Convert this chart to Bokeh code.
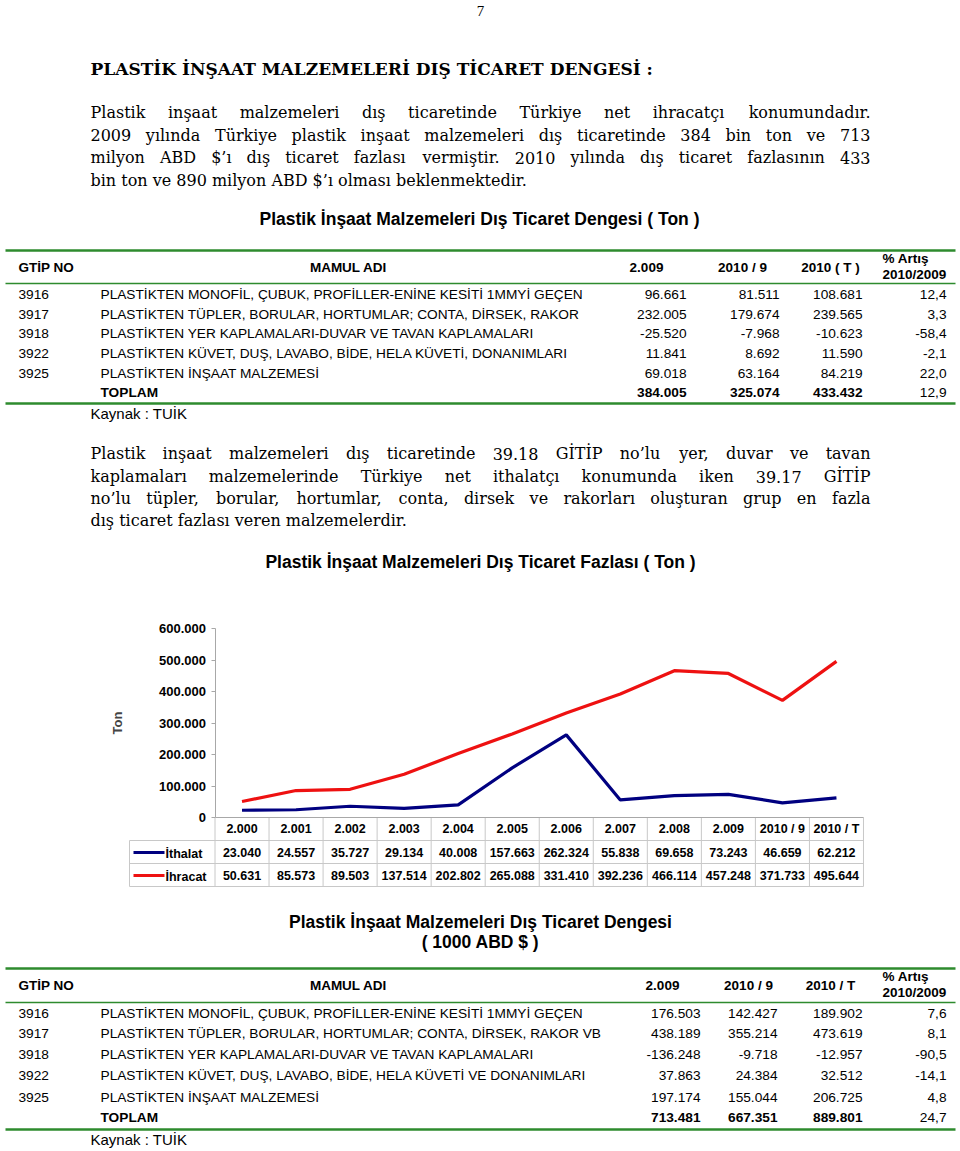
from bokeh.plotting import figure
from bokeh.models import Range1d, LinearAxis, FixedTicker, CustomJSTickFormatter, ColumnDataSource
from bokeh.core.properties import value
from bokeh.embed import file_html
from bokeh.resources import INLINE

# ---------------- data ----------------
years = ["2.000", "2.001", "2.002", "2.003", "2.004", "2.005", "2.006",
         "2.007", "2.008", "2.009", "2010 / 9", "2010 / T"]
ithalat = [23040, 24557, 35727, 29134, 40008, 157663, 262324, 55838, 69658, 73243, 46659, 62212]
ihracat = [50631, 85573, 89503, 137514, 202802, 265088, 331410, 392236, 466114, 457248, 371733, 495644]
y_ticks = [0, 100000, 200000, 300000, 400000, 500000, 600000]

gtip = ["3916", "3917", "3918", "3922", "3925"]
t1_names = ["PLASTİKTEN MONOFİL, ÇUBUK, PROFİLLER-ENİNE KESİTİ 1MMYİ GEÇEN",
            "PLASTİKTEN TÜPLER, BORULAR, HORTUMLAR; CONTA, DİRSEK, RAKOR",
            "PLASTİKTEN YER KAPLAMALARI-DUVAR VE TAVAN KAPLAMALARI",
            "PLASTİKTEN KÜVET, DUŞ, LAVABO, BİDE, HELA KÜVETİ, DONANIMLARI",
            "PLASTİKTEN İNŞAAT MALZEMESİ"]
ton_2009 = [96661, 232005, -25520, 11841, 69018, 384005]
ton_2010_9 = [81511, 179674, -7968, 8692, 63164, 325074]
ton_2010_T = [108681, 239565, -10623, 11590, 84219, 433432]
ton_pct = [12.4, 3.3, -58.4, -2.1, 22.0, 12.9]

t2_names = ["PLASTİKTEN MONOFİL, ÇUBUK, PROFİLLER-ENİNE KESİTİ 1MMYİ GEÇEN",
            "PLASTİKTEN TÜPLER, BORULAR, HORTUMLAR; CONTA, DİRSEK, RAKOR VB",
            "PLASTİKTEN YER KAPLAMALARI-DUVAR VE TAVAN KAPLAMALARI",
            "PLASTİKTEN KÜVET, DUŞ, LAVABO, BİDE, HELA KÜVETİ VE DONANIMLARI",
            "PLASTİKTEN İNŞAAT MALZEMESİ"]
usd_2009 = [176503, 438189, -136248, 37863, 197174, 713481]
usd_2010_9 = [142427, 355214, -9718, 24384, 155044, 667351]
usd_2010_T = [189902, 473619, -12957, 32512, 206725, 889801]
usd_pct = [7.6, 8.1, -90.5, -14.1, 4.8, 24.7]

heading = "PLASTİK İNŞAAT MALZEMELERİ DIŞ TİCARET DENGESİ :"
para1 = ["Plastik inşaat malzemeleri dış ticaretinde Türkiye net ihracatçı konumundadır.",
         "2009 yılında Türkiye plastik inşaat malzemeleri dış ticaretinde 384 bin ton ve 713",
         "milyon ABD $’ı dış ticaret fazlası vermiştir. 2010 yılında dış ticaret fazlasının 433",
         "bin ton ve 890 milyon ABD $’ı olması beklenmektedir."]
para2 = ["Plastik inşaat malzemeleri dış ticaretinde 39.18 GİTİP no’lu yer, duvar ve tavan",
         "kaplamaları malzemelerinde Türkiye net ithalatçı konumunda iken 39.17 GİTİP",
         "no’lu tüpler, borular, hortumlar, conta, dirsek ve rakorları oluşturan grup en fazla",
         "dış ticaret fazlası veren malzemelerdir."]


def fmt_int(v):
    return f"{v:,}".replace(",", ".")


def fmt_pct(v):
    return f"{v:.1f}".replace(".", ",")


# ---------------- page / chart geometry ----------------
W, H = 958, 1149
X0, CW = 214.5, 54.04        # left edge of chart frame (page px), width of one category
Y0, K = 817.0, 189 / 600000  # page px of value 0, px per unit

x_start = (0 - X0) / CW - 0.5
x_end = (W - X0) / CW - 0.5
y_start = (Y0 - H) / K
y_end = (Y0 - 0) / K

p = figure(width=W, height=H, x_range=Range1d(x_start, x_end), y_range=Range1d(y_start, y_end),
           output_backend="svg", toolbar_location=None, min_border=0,
           x_axis_type=None, y_axis_type=None)
p.extra_x_ranges = {"px": Range1d(0, W)}
p.extra_y_ranges = {"py": Range1d(H, 0)}
p.outline_line_color = None
p.background_fill_color = "white"

SANS = "Liberation Sans"
SERIF = "DejaVu Serif"
GREEN = "#2e8b2e"


def txt(xs, ys, texts, size, font=SANS, style="normal", align="left", baseline="middle",
        color="black", xr="px"):
    src = ColumnDataSource(dict(x=list(xs), y=list(ys), t=list(texts)))
    p.text(x="x", y="y", text="t", source=src, x_range_name=xr, y_range_name="py",
           text_font=value(font), text_font_size=f"{size}px", text_font_style=style,
           text_align=align, text_baseline=baseline, text_color=color)


def hline(y, x0, x1, color, width):
    p.segment(x0=[x0], y0=[y], x1=[x1], y1=[y], line_color=color, line_width=width,
              x_range_name="px", y_range_name="py")


# approximate advance widths (per 1000 em) of DejaVu Serif, used to justify paragraphs
_w = dict(zip("abcdefghijklmnopqrstuvwxyz",
              [596, 640, 560, 640, 592, 370, 640, 644, 320, 310, 606, 320, 948,
               644, 602, 640, 640, 478, 513, 402, 644, 565, 856, 564, 565, 527]))
_w.update(dict(zip("ABCDEFGHIJKLMNOPQRSTUVWXYZ",
                   [722, 735, 765, 802, 730, 694, 799, 872, 395, 401, 747, 664, 1024,
                    875, 820, 673, 820, 753, 685, 667, 843, 722, 1028, 712, 660, 695])))
_w.update({c: 636 for c in "0123456789$"})
_w.update({"ı": 320, "ş": 513, "ç": 560, "ü": 644, "ö": 602, "ğ": 640, "İ": 395, "Ş": 685,
           "Ç": 765, "Ü": 843, "’": 318, ".": 318, ",": 318, ";": 337, ":": 337, " ": 318,
           "-": 338})


def tw(s, size):
    return sum(_w.get(c, 600) for c in s) / 1000 * size


def paragraph(lines, ys, size, left=90, right=870):
    for i, (line, y) in enumerate(zip(lines, ys)):
        if i == len(lines) - 1:
            txt([left], [y], [line], size, font=SERIF)
            continue
        words = line.split(" ")
        widths = [tw(w, size) for w in words]
        n = len(words)
        gap = (right - left - sum(widths)) / (n - 1)
        half = n // 2
        lx, lw = [], []
        x = left
        for k in range(half):
            lx.append(x)
            lw.append(words[k])
            x += widths[k] + gap
        rx, rw = [], []
        x = right
        for k in range(n - 1, half - 1, -1):
            rx.append(x)
            rw.append(words[k])
            x -= widths[k] + gap
        txt(lx, [y] * len(lx), lw, size, font=SERIF)
        txt(rx, [y] * len(rx), rw, size, font=SERIF, align="right")


# ---------------- top texts ----------------
txt([480], [10], ["7"], 15, font="Liberation Serif", align="center")
txt([90], [68], [heading], 17, font=SERIF, style="bold")
paragraph(para1, [112, 134.5, 157, 180], 16)
txt([479], [218], ["Plastik İnşaat Malzemeleri Dış Ticaret Dengesi ( Ton )"], 17.5, style="bold", align="center")


def table(top, hdr_y, hdr_line, rows_y, bottom, kaynak_y, names, c1, c2, c3, pct,
          head_cx, right_x, heads):
    hline(top, 5, 955, GREEN, 2.5)
    hline(hdr_line, 5, 955, GREEN, 1.5)
    hline(bottom, 5, 955, GREEN, 2.5)
    txt([18], [hdr_y], ["GTİP NO"], 13.5, style="bold")
    txt([348], [hdr_y], ["MAMUL ADI"], 13.5, style="bold", align="center")
    txt(head_cx, [hdr_y] * 3, heads, 13.5, style="bold", align="center")
    txt([882, 882], [hdr_y - 9, hdr_y + 7], ["% Artış", "2010/2009"], 13.5, style="bold")
    txt([18] * 5, rows_y[:5], gtip, 13.7)
    txt([100] * 5, rows_y[:5], names, 13.7)
    txt([100], [rows_y[5]], ["TOPLAM"], 13.7, style="bold")
    for col, rx in zip([c1, c2, c3], right_x[:3]):
        txt([rx] * 5, rows_y[:5], [fmt_int(v) for v in col[:5]], 13.7, align="right")
        txt([rx], [rows_y[5]], [fmt_int(col[5])], 13.7, style="bold", align="right")
    txt([right_x[3]] * 6, rows_y, [fmt_pct(v) for v in pct], 13.7, align="right")
    txt([90], [kaynak_y], ["Kaynak : TUİK"], 15)


table(250, 267, 283, [294, 313.5, 333, 353, 372.5, 392], 403, 413,
      t1_names, ton_2009, ton_2010_9, ton_2010_T, ton_pct,
      [646, 742, 830], [686, 779, 862, 946], ["2.009", "2010 / 9", "2010 ( T )"])

paragraph(para2, [453, 476, 498, 520], 16)
txt([480], [561], ["Plastik İnşaat Malzemeleri Dış Ticaret Fazlası ( Ton )"], 17.5, style="bold", align="center")

# ---------------- chart ----------------
x_idx = list(range(len(years)))
GRID = "#c8c8c8"

# data table grid under the chart
p.segment(x0=[i - 0.5 for i in range(len(years) + 1)], y0=[817] * (len(years) + 1),
          x1=[i - 0.5 for i in range(len(years) + 1)], y1=[886] * (len(years) + 1),
          line_color=GRID, line_width=1, y_range_name="py")
for yy in [840, 863, 886]:
    hline(yy, 129, X0 + CW * len(years), GRID, 1)
p.segment(x0=[129], y0=[840], x1=[129], y1=[886], line_color=GRID, line_width=1,
          x_range_name="px", y_range_name="py")

p.line(x_idx, ithalat, line_color="#000080", line_width=3.2)
p.line(x_idx, ihracat, line_color="#ee1111", line_width=3.2)

txt(x_idx, [852] * len(years), [fmt_int(v) for v in ithalat], 12.5, style="bold", align="center", xr="default")
txt(x_idx, [875] * len(years), [fmt_int(v) for v in ihracat], 12.5, style="bold", align="center", xr="default")

hline(852, 133, 164, "#000080", 3.2)
hline(875, 133, 164, "#ee1111", 3.2)
txt([165, 165], [853, 876], ["İthalat", "İhracat"], 12.5, style="bold")

yax = LinearAxis(fixed_location=-0.5, bounds=(0, 600000), ticker=FixedTicker(ticks=y_ticks),
                 formatter=CustomJSTickFormatter(code="return tick == 0 ? '0' : (tick/1000).toFixed(0) + '.000'"),
                 axis_label="Ton")
yax.axis_line_color = "#a8a8a8"
yax.major_tick_line_color = "#a8a8a8"
yax.major_tick_out = 4
yax.major_tick_in = 0
yax.minor_tick_out = 0
yax.minor_tick_in = 0
yax.major_label_standoff = 5
yax.major_label_text_font = SANS
yax.major_label_text_font_style = "bold"
yax.major_label_text_font_size = "13px"
yax.major_label_text_color = "black"
yax.axis_label_text_font = SANS
yax.axis_label_text_font_style = "bold"
yax.axis_label_text_font_size = "13px"
yax.axis_label_standoff = 32
p.add_layout(yax, "left")

xax = LinearAxis(fixed_location=0, bounds=(-0.5, len(years) - 0.5), ticker=FixedTicker(ticks=x_idx),
                 formatter=CustomJSTickFormatter(args=dict(labels=years), code="return labels[Math.round(tick)]"))
xax.axis_line_color = "#a8a8a8"
xax.major_tick_out = 0
xax.major_tick_in = 0
xax.minor_tick_out = 0
xax.minor_tick_in = 0
xax.major_label_standoff = 4
xax.major_label_text_font = SANS
xax.major_label_text_font_style = "bold"
xax.major_label_text_font_size = "12.5px"
xax.major_label_text_color = "black"
p.add_layout(xax, "below")

# ---------------- bottom table ----------------
txt([480, 480], [921, 941], ["Plastik İnşaat Malzemeleri Dış Ticaret Dengesi", "( 1000 ABD $ )"], 17.5,
    style="bold", align="center")
table(968, 985, 1002, [1013, 1033, 1054, 1075, 1096.5, 1116.5], 1129, 1139,
      t2_names, usd_2009, usd_2010_9, usd_2010_T, usd_pct,
      [662, 748, 830], [700, 777, 862, 946], ["2.009", "2010 / 9", "2010 / T"])

open("out.html", "w").write(file_html(p, INLINE))
